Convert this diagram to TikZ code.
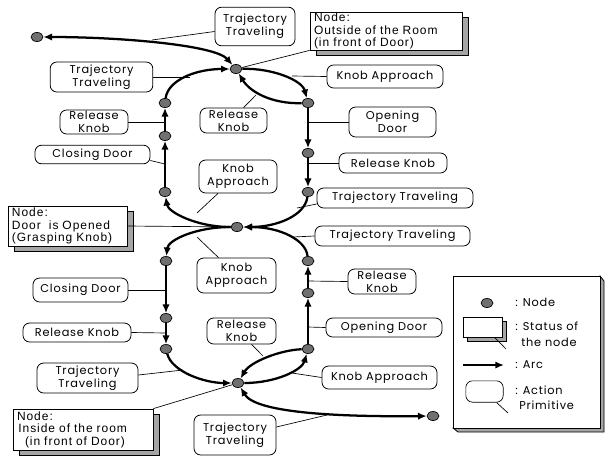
\documentclass[tikz,border=0pt]{standalone}
\usepackage{fontspec}
\setmainfont{Liberation Sans}[LetterSpace=8]
\newfontfamily\lblfamily{Poppins}[LetterSpace=7]
\usetikzlibrary{arrows.meta,shapes.geometric,shadows}
\definecolor{nodegray}{RGB}{112,112,112}
\definecolor{shadowgray}{RGB}{165,165,165}
\begin{document}
\begin{tikzpicture}[x=0.75pt,y=-0.75pt,
  state/.style={ellipse,draw,line width=0.5pt,fill=nodegray,minimum width=9pt,minimum height=6.8pt,inner sep=0pt},
  arc/.style={line width=1.7pt,-{Latex[length=6.5pt,width=5.5pt]}},
  darc/.style={line width=1.7pt,{Latex[length=6.5pt,width=5.5pt]}-{Latex[length=6.5pt,width=5.5pt]}},
  prim/.style={draw,line width=0.6pt,rounded corners=5pt,fill=white,align=center,inner sep=0pt,font=\lblfamily\fontsize{8.5}{9.6}\selectfont},
  status/.style={draw,line width=0.6pt,fill=white,align=left,inner xsep=3pt,inner ysep=0pt,font=\fontsize{9}{9.4}\selectfont,
     drop shadow={shadow xshift=4.5pt,shadow yshift=-4pt,fill=shadowgray,opacity=1,draw=black,line width=0.5pt}},
  leader/.style={line width=0.5pt},
  legtext/.style={anchor=west,inner sep=0pt,font=\lblfamily\fontsize{8.5}{9.6}\selectfont},
]
\useasboundingbox (0,0) rectangle (605,457);

% ---------- states ----------
\node[state] (F1) at (37,37) {};
\node[state] (Ntop) at (236,69) {};
\node[state] (L1) at (165,103) {};
\node[state] (L2) at (165,136) {};
\node[state] (L3) at (165,192) {};
\node[state] (R1) at (308,103) {};
\node[state] (R2) at (308,153) {};
\node[state] (R3) at (308,192) {};
\node[state] (Nmid) at (237,227) {};
\node[state] (Lb1) at (166,261) {};
\node[state] (Lb2) at (166,318) {};
\node[state] (Lb3) at (166,349) {};
\node[state] (Rb1) at (308,261) {};
\node[state] (Rb2) at (308,293) {};
\node[state] (Rb3) at (308,349) {};
\node[state] (Nbot) at (238,383) {};
\node[state] (F2) at (433,416) {};

% ---------- leader end points on arcs ----------
\coordinate (c1) at (152,40);
\coordinate (c3) at (190,77);
\coordinate (c4) at (292,76);
\coordinate (c5) at (165,122);
\coordinate (c6) at (256,95);
\coordinate (c7) at (165,164);
\coordinate (c8) at (197,213);
\coordinate (c9) at (308,122);
\coordinate (c10) at (308,163);
\coordinate (c11) at (297,208);
\coordinate (c13) at (293,237);
\coordinate (c14) at (197,237);
\coordinate (c15) at (308,281);
\coordinate (c16) at (166,290);
\coordinate (c17) at (166,333);
\coordinate (c18) at (308,327);
\coordinate (c19) at (263,356);
\coordinate (c20) at (292,373);
\coordinate (c21) at (183,370);
\coordinate (c23) at (327,415);

% ---------- status boxes ----------
\node[status,minimum width=114pt,minimum height=28.5pt,text width=108pt] (st1) at (386,31)
  {Node:\\Outside of the Room\\(in front of Door)};
\node[status,minimum width=89.25pt,minimum height=30pt,text width=83.25pt] (st2) at (67.5,226)
  {Node:\\Door\ \ is Opened\\(Grasping Knob)};
\node[status,minimum width=105pt,minimum height=30.75pt,text width=99pt] (st3) at (83,429.5)
  {Node:\\\hspace{1pt}Inside of the room\\\hspace{6pt}(in front of Door)};

% ---------- action primitives ----------
\node[prim,minimum width=60pt,minimum height=29pt] (tt1) at (255,26.5) {Trajectory\\Traveling};
\node[prim,minimum width=77pt,minimum height=22.5pt] (tt2) at (101.5,77) {Trajectory\\Traveling};
\node[prim,minimum width=87pt,minimum height=17.25pt] (ka1) at (385,76.5) {Knob Approach};
\node[prim,minimum width=51pt,minimum height=18pt] (rk1) at (94,122) {Release\\Knob};
\node[prim,minimum width=50.25pt,minimum height=18.75pt] (rk2) at (233.5,120.5) {Release\\Knob};
\node[prim,minimum width=86.25pt,minimum height=14pt] (cd1) at (92.5,154.5) {Closing Door};
\node[prim,minimum width=58.5pt,minimum height=24.75pt] (ka2) at (238,176.5) {Knob\\Approach};
\node[prim,minimum width=65.25pt,minimum height=22.5pt] (od1) at (392.5,122) {Opening\\Door};
\node[prim,minimum width=81pt,minimum height=15pt] (rk3) at (393,163) {Release Knob};
\node[prim,minimum width=117pt,minimum height=15pt] (tt3) at (395,198) {Trajectory Traveling};
\node[prim,minimum width=116.25pt,minimum height=15pt] (tt4) at (392.5,236) {Trajectory Traveling};
\node[prim,minimum width=59.25pt,minimum height=26.25pt] (ka3) at (236.5,275.5) {Knob\\Approach};
\node[prim,minimum width=51pt,minimum height=18.75pt] (rk4) at (382,281.5) {Release\\Knob};
\node[prim,minimum width=71.25pt,minimum height=18pt] (cd2) at (80.5,290) {Closing Door};
\node[prim,minimum width=81pt,minimum height=14.25pt] (rk5) at (77,332.5) {Release Knob};
\node[prim,minimum width=87pt,minimum height=14.25pt] (od2) at (384,327.5) {Opening Door};
\node[prim,minimum width=51.75pt,minimum height=19.5pt] (rk6) at (241.5,331) {Release\\Knob};
\node[prim,minimum width=86.25pt,minimum height=17.25pt] (ka4) at (379.5,377.5) {Knob Approach};
\node[prim,minimum width=75.75pt,minimum height=22.5pt] (tt5) at (87.5,378) {Trajectory\\Traveling};
\node[prim,minimum width=61.5pt,minimum height=30pt] (tt6) at (235,435) {Trajectory\\Traveling};

% ---------- leaders ----------
\draw[leader] (tt1.west) ++(0,5) -- (c1);
\draw[leader] (st1.south west) -- (Ntop);
\draw[leader] (tt2.east) -- (c3);
\draw[leader] (ka1.west) -- (c4);
\draw[leader] (rk1.east) -- (c5);
\draw[leader] (rk2.north) ++(10,0) -- (c6);
\draw[leader] (cd1.east) ++(0,6) -- (c7);
\draw[leader] (ka2.south) ++(-20,0) -- (c8);
\draw[leader] (od1.west) -- (c9);
\draw[leader] (rk3.west) -- (c10);
\draw[leader] (tt3.west) ++(0,6) -- (c11);
\draw[leader] (st2.east) -- (Nmid);
\draw[leader] (tt4.west) -- (c13);
\draw[leader] (ka3.north) ++(-18,0) -- (c14);
\draw[leader] (rk4.west) -- (c15);
\draw[leader] (cd2.east) -- (c16);
\draw[leader] (rk5.east) -- (c17);
\draw[leader] (od2.west) -- (c18);
\draw[leader] (rk6.south) ++(10,0) -- (c19);
\draw[leader] (ka4.west) -- (c20);
\draw[leader] (tt5.east) ++(0,-3) -- (c21);
\draw[leader] (st3.north east) -- (Nbot);
\draw[leader] (tt6.east) ++(0,-8) -- (c23);

% ---------- arcs: upper cycle ----------
\draw[darc] (F1) .. controls (120,37) and (215,45) .. (Ntop);
\draw[arc] (Ntop) .. controls (272,68) and (302,80) .. (R1);
\draw[arc] (R1) .. controls (272,104) and (250,92) .. (Ntop);
\draw[arc] (R1) -- (R2);
\draw[arc] (R2) -- (R3);
\draw[arc] (R3) .. controls (305,216) and (276,227) .. (Nmid);
\draw[arc] (Nmid) .. controls (196,227) and (168,212) .. (L3);
\draw[arc] (L3) -- (L2);
\draw[arc] (L2) -- (L1);
\draw[arc] (L1) .. controls (168,80) and (196,69) .. (Ntop);

% ---------- arcs: lower cycle ----------
\draw[arc] (Nmid) .. controls (196,227) and (168,240) .. (Lb1);
\draw[arc] (Lb1) -- (Lb2);
\draw[arc] (Lb2) -- (Lb3);
\draw[arc] (Lb3) .. controls (172,372) and (205,383) .. (Nbot);
\draw[arc] (Nbot) .. controls (276,383) and (302,370) .. (Rb3);
\draw[arc] (Rb3) .. controls (280,350) and (250,362) .. (Nbot);
\draw[arc] (Rb3) -- (Rb2);
\draw[arc] (Rb2) -- (Rb1);
\draw[arc] (Rb1) .. controls (306,240) and (280,227) .. (Nmid);
\draw[darc] (Nbot) .. controls (255,412) and (330,417) .. (F2);

% ---------- legend ----------
\draw[line width=0.6pt,fill=shadowgray] (600,276) -- (604,281) -- (604,432) -- (458,432) -- (453,428) -- cycle;
\node[draw,line width=0.6pt,fill=white,minimum width=110.25pt,minimum height=114pt,inner sep=0pt] (legend) at (526.5,352) {};
\node[state] (lgnode) at (487,303) {};
\node[legtext] (lgnodet) at (515,302) {: Node};
\node[draw,line width=0.5pt,fill=white,minimum width=29pt,minimum height=15pt,inner sep=0pt,
     drop shadow={shadow xshift=3pt,shadow yshift=-3pt,fill=shadowgray,opacity=1,draw=black,line width=0.5pt}] (lgstat) at (482.5,327) {};
\coordinate (lgstatend) at (506,349);
\draw[leader] (lgstat.south) ++(12,0) -- (lgstatend);
\node[legtext] (lgstatt1) at (515,326) {: Status of};
\node[legtext] (lgstatt2) at (521,342) {the node};
\coordinate (lga1) at (463,365);
\coordinate (lga2) at (504,365);
\draw[arc] (lga1) -- (lga2);
\node[legtext] (lgarct) at (515,365) {: Arc};
\node[draw,line width=0.5pt,rounded corners=5pt,fill=white,minimum width=28pt,minimum height=16pt,inner sep=0pt] (lgprim) at (484.5,391.5) {};
\coordinate (lgprimend) at (508,413);
\draw[leader] (lgprim.south) ++(12,0) -- (lgprimend);
\node[legtext] (lgprimt1) at (515,390) {: Action};
\node[legtext] (lgprimt2) at (519,405) {Primitive};
\end{tikzpicture}
\end{document}
